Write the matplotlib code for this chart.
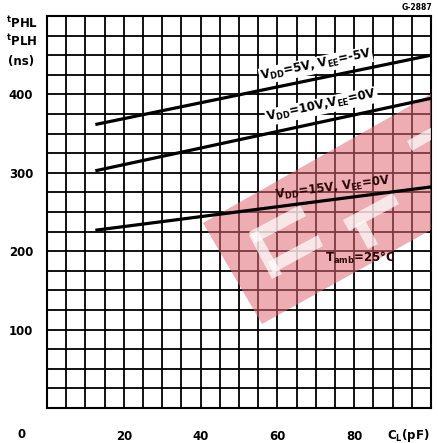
import numpy as np
import matplotlib.pyplot as plt
from matplotlib.patches import Polygon

plt.rcParams["font.family"] = "DejaVu Sans"
plt.rcParams["font.weight"] = "bold"
plt.rcParams["mathtext.default"] = "bf"

# datos
cl = [13, 100]
t_5v = [362, 450]
t_10v = [303, 395]
t_15v = [227, 282]
xticks = [20, 40, 60, 80]
yticks = [100, 200, 300, 400]

W, H = 438, 443
fig = plt.figure(figsize=(W / 100, H / 100), dpi=100)
ax = fig.add_axes([47 / W, 1 - 408 / H, 384 / W, 392 / H])
ax.set_xlim(0, 100)
ax.set_ylim(0, 500)

# rejilla
ax.set_xticks(np.arange(0, 101, 5), minor=True)
ax.set_yticks(np.arange(0, 501, 25), minor=True)
ax.set_xticks(xticks)
ax.set_yticks(yticks)
ax.grid(which="both", color="black", linewidth=1.3)
ax.set_xticklabels([str(v) for v in xticks], fontsize=8.5, fontweight="bold")
ax.set_yticklabels([str(v) for v in yticks], fontsize=8.5, fontweight="bold")
ax.tick_params(which="both", length=0, pad=0)
ax.tick_params(axis="x", pad=16)
ax.tick_params(axis="y", pad=10)
for s in ax.spines.values():
    s.set_linewidth(1.5)

# marca de agua (logo rojo), en pixeles de la imagen
def px(x, y):
    return ((x - 47) / 384, (408 - y) / 392)

ax.add_patch(Polygon([px(*p) for p in [(203, 223), (438, 90), (438, 226), (262, 324)]],
                     closed=True, transform=ax.transAxes, facecolor="#e06a74",
                     alpha=0.55, edgecolor="none", zorder=3))
for poly in [[(249, 232), (300, 205), (306, 216), (255, 243)],
             [(249, 235), (258, 231), (282, 274), (272, 279)],
             [(268, 262), (318, 235), (323, 246), (273, 273)],
             [(343, 220), (393, 193), (399, 204), (349, 231)],
             [(355, 225), (365, 220), (378, 244), (368, 249)],
             [(407, 141), (438, 124), (438, 136), (412, 151)]]:
    ax.add_patch(Polygon([px(*p) for p in poly], closed=True, transform=ax.transAxes,
                         facecolor="white", alpha=0.7, edgecolor="none", zorder=3))

# curvas
ax.plot(cl, t_5v, color="black", linewidth=2.3, zorder=4)
ax.plot(cl, t_10v, color="black", linewidth=2.3, zorder=4)
ax.plot(cl, t_15v, color="black", linewidth=2.3, zorder=4)

fondo = dict(facecolor="white", edgecolor="none", pad=0.6)
ax.text(70, 437, r"$V_{DD}$=5V, $V_{EE}$=-5V", fontsize=8.5, rotation=11.7,
        ha="center", va="center", zorder=5, bbox=fondo)
ax.text(71.5, 385, r"$V_{DD}$=10V,$V_{EE}$=0V", fontsize=8.5, rotation=12.2,
        ha="center", va="center", zorder=5, bbox=fondo)
ax.text(74.5, 281, r"$V_{DD}$=15V, $V_{EE}$=0V", fontsize=8.5, rotation=7.3,
        ha="center", va="center", zorder=5, color="#2a0508")
ax.text(81.5, 191, r"$T_{amb}$=25°C", fontsize=8.5, ha="center", va="center",
        zorder=5, color="#2a0508")

# textos de los ejes
fig.text(22 / W, 1 - 435 / H, "0", fontsize=8.5, ha="center", va="center")
fig.text(408 / W, 1 - 435 / H, r"C$_L$(pF)", fontsize=8.5, ha="center", va="center")
fig.text(6 / W, 1 - 23 / H, r"$^t$PHL", fontsize=8.5, ha="left", va="center")
fig.text(6 / W, 1 - 41 / H, r"$^t$PLH", fontsize=8.5, ha="left", va="center")
fig.text(8 / W, 1 - 62 / H, "(ns)", fontsize=8.5, ha="left", va="center")
fig.text(432 / W, 1 - 8 / H, "G-2887", fontsize=5.5, ha="right", va="center")

fig.savefig("out.png", dpi=100)
